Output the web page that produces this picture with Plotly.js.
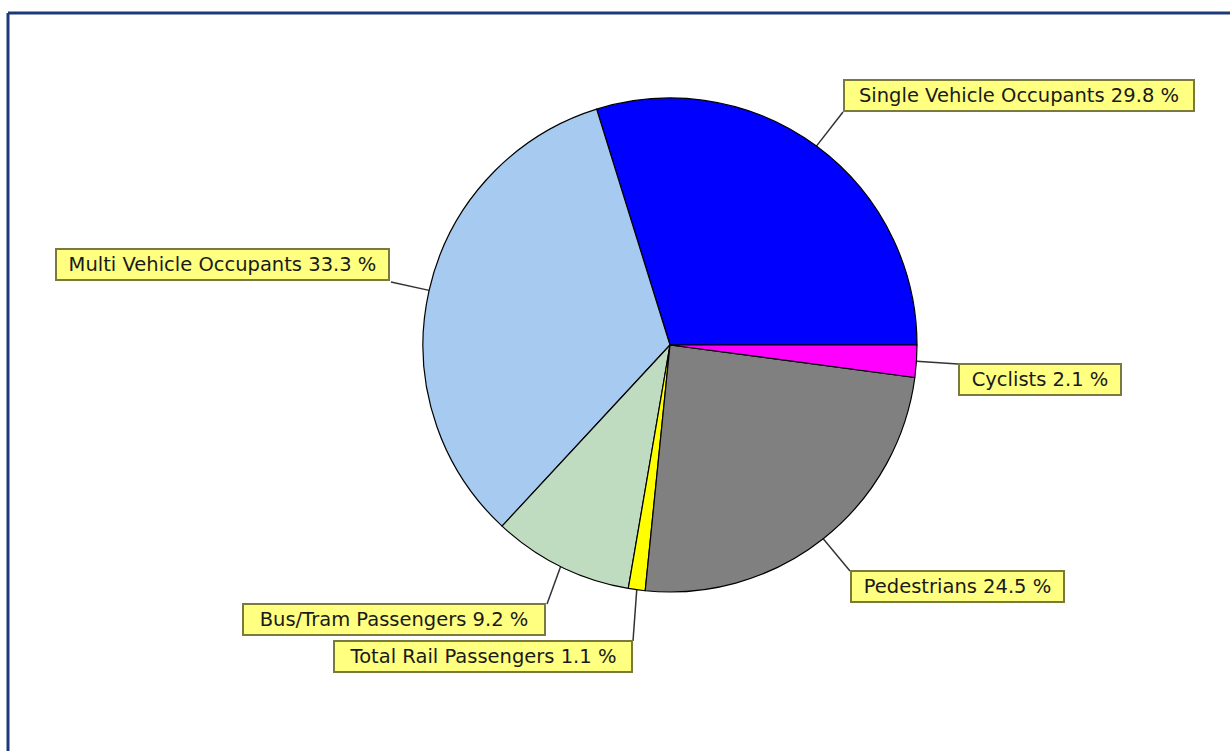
<!DOCTYPE html>
<html>
<head>
<meta charset="utf-8">
<script src="https://cdn.plot.ly/plotly-3.0.1.min.js"></script>
<style>
  html, body { margin: 0; padding: 0; background: #ffffff; }
  #chart { width: 1230px; height: 751px; }
</style>
</head>
<body>
<div id="chart"></div>
<script>
// ---- data ----
const categories = [
  "Single Vehicle Occupants",
  "Multi Vehicle Occupants",
  "Bus/Tram Passengers",
  "Total Rail Passengers",
  "Pedestrians",
  "Cyclists"
];
const shares = [29.8, 33.3, 9.2, 1.1, 24.5, 2.1];
const sliceColors = ["#0000ff", "#a6caf0", "#c0dcc0", "#ffff00", "#808080", "#ff00ff"];

// ---- layout constants (pixels) ----
const W = 1230, H = 751;
const CX = 670, CY = 345, R = 247;
// label boxes: [left, top, width, height] and leader-line end (box corner)
const labelBoxes = [
  {box: [843, 79, 352, 33], end: [843, 112]},
  {box: [55, 248, 335, 33], end: [391, 282]},
  {box: [242, 603, 304, 33], end: [547, 604]},
  {box: [333, 640, 300, 33], end: [633, 641]},
  {box: [850, 570, 215, 33], end: [850, 571]},
  {box: [958, 363, 164, 33], end: [958, 364]}
];

const px = x => x / W;
const py = y => 1 - y / H;

// compute slice mid-angles from the data (start at 3 o'clock, counterclockwise)
const total = shares.reduce((a, b) => a + b, 0);
let acc = 0;
const tips = shares.map(v => {
  const mid = (acc + v / 2) / total * 2 * Math.PI;
  acc += v;
  return [CX + R * Math.cos(mid), CY - R * Math.sin(mid)];
});

const annotations = categories.map((c, i) => {
  const b = labelBoxes[i].box;
  return {
    xref: "paper", yref: "paper",
    x: px(b[0]), y: py(b[1]),
    xanchor: "left", yanchor: "top",
    text: c + " " + shares[i].toFixed(1) + " %",
    showarrow: false,
    width: b[2] - 4, height: b[3] - 4,
    align: "center", valign: "middle",
    bgcolor: "#ffff80",
    bordercolor: "#7a7a3c",
    borderwidth: 2,
    borderpad: 0,
    font: {family: "DejaVu Sans, Verdana, sans-serif", size: 19.5, color: "#1a1a1a"}
  };
});

const shapes = categories.map((c, i) => ({
  type: "line", xref: "paper", yref: "paper",
  x0: px(tips[i][0]), y0: py(tips[i][1]),
  x1: px(labelBoxes[i].end[0]), y1: py(labelBoxes[i].end[1]),
  line: {color: "#333333", width: 1.5},
  layer: "below"
}));
// outer frame (top and left edges)
shapes.push({type: "line", xref: "paper", yref: "paper",
  x0: px(8), y0: py(13), x1: px(1235), y1: py(13),
  line: {color: "#1c3a7a", width: 3}});
shapes.push({type: "line", xref: "paper", yref: "paper",
  x0: px(8), y0: py(13), x1: px(8), y1: py(760),
  line: {color: "#1c3a7a", width: 3}});

// Plotly (counterclockwise): first slice spans clockwise from the rotation line,
// so put the rotation line at the first slice's far edge to start it at 3 o'clock.
const rotation = 90 - shares[0] / total * 360;

const trace = {
  type: "pie",
  labels: categories,
  values: shares,
  sort: false,
  direction: "counterclockwise",
  rotation: rotation,
  marker: {colors: sliceColors, line: {color: "#000000", width: 1.2}},
  textinfo: "none",
  hoverinfo: "label+percent",
  domain: {x: [px(CX - R), px(CX + R)], y: [py(CY + R), py(CY - R)]}
};

const layout = {
  width: W, height: H,
  margin: {l: 0, r: 0, t: 0, b: 0},
  paper_bgcolor: "#ffffff",
  showlegend: false,
  annotations: annotations,
  shapes: shapes
};

Plotly.newPlot("chart", [trace], layout, {displayModeBar: false, staticPlot: true});
</script>
</body>
</html>
